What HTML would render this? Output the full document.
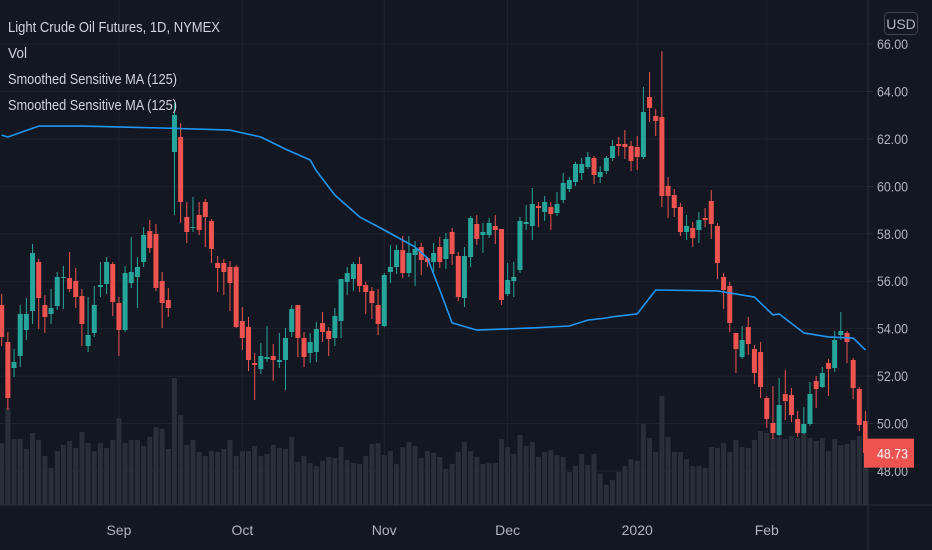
<!DOCTYPE html>
<html><head><meta charset="utf-8"><style>
html,body{margin:0;padding:0;background:#131722;}
svg{display:block;font-family:"Liberation Sans Narrow","Liberation Sans",sans-serif;}
</style></head><body>
<svg id="chart" width="932" height="550" viewBox="0 0 932 550" xmlns="http://www.w3.org/2000/svg">
<rect x="0" y="0" width="932" height="550" fill="#131722"/>
<g id="grid"></g>
<g id="vol"></g>
<g id="candles"></g>
<g id="ma"></g>
<g id="axes"></g>
<g>
<text x="8" y="32" fill="#d1d4dc" font-size="15" textLength="212" lengthAdjust="spacingAndGlyphs">Light Crude Oil Futures, 1D, NYMEX</text>
<text x="8" y="58" fill="#d1d4dc" font-size="15" textLength="19" lengthAdjust="spacingAndGlyphs">Vol</text>
<text x="8" y="84" fill="#d1d4dc" font-size="15" textLength="169" lengthAdjust="spacingAndGlyphs">Smoothed Sensitive MA (125)</text>
<text x="8" y="110" fill="#d1d4dc" font-size="15" textLength="169" lengthAdjust="spacingAndGlyphs">Smoothed Sensitive MA (125)</text>
</g>
</svg>
<script>
// Data (prices)
const opens = [];const highs=[];const lows=[];const closes=[];
// pixel-read candles converted below: [open,high,low,close] in price via helper from readings
const ohlcPx = [
[305,294,346,337],[342,332,410,398],[368,349,377,362],[356,305,367,314],[330,298,340,314],[311,244,324,253],[262,259,329,298],[305,295,333,317],[314,289,324,308],[306,272,310,277],
[278,266,309,277],[278,252,292,289],[281,268,308,297],[296,289,346,324],[346,297,352,335],[333,286,337,305],[287,262,297,285],[284,257,294,262],[264,262,316,302],[303,297,356,330],
[330,266,332,273],[283,237,288,272],[277,257,308,267],[262,227,267,235],[231,220,253,248],[234,224,291,288],[281,272,328,303],[300,288,317,308],[152,103,215,115],[137,123,223,202],
[217,202,243,232],[228,197,232,227],[215,202,235,230],[202,199,247,217],[221,219,263,249],[263,256,292,268],[263,259,295,272],[267,261,311,283],[267,265,328,327],[321,307,350,338],
[327,317,371,360],[363,353,400,365],[369,343,374,356],[359,326,362,357],[356,344,381,360],[362,333,368,360],[360,328,390,338],[332,305,337,309],[305,305,357,338],[338,332,367,357],
[353,333,363,342],[352,322,362,329],[323,312,342,332],[331,327,356,339],[338,308,346,316],[321,279,338,279],[282,267,295,273],[279,262,291,264],[264,257,292,286],[285,282,314,292],
[291,287,319,303],[305,289,335,324],[326,273,327,275],[272,245,283,267],[267,245,274,250],[250,236,278,273],[273,236,277,253],[255,241,286,249],[247,243,275,260],[258,257,267,262],
[262,243,272,253],[247,237,268,262],[259,233,269,239],[232,228,265,254],[256,252,301,297],[298,247,307,256],[257,216,267,218],[224,215,245,239],[235,223,253,232],[235,218,238,223],
[226,215,244,230],[229,229,305,300],[294,263,296,280],[281,262,297,277],[270,217,273,221],[224,205,230,222],[226,188,240,204],[206,202,227,208],[212,196,221,202],[207,202,230,214],
[213,192,216,204],[200,173,203,183],[189,177,192,180],[182,162,186,164],[173,158,180,164],[167,152,169,157],[158,156,184,175],[177,166,183,172],[171,156,174,158],[158,140,161,146],
[144,137,156,146],[144,130,159,147],[146,141,171,161],[147,136,170,157],[157,87,159,112],[97,72,122,108],[116,109,136,121],[117,51,207,196],[186,177,218,196],[195,189,217,208],
[207,203,236,232],[232,215,240,226],[228,222,247,238],[230,212,243,220],[218,208,227,220],[201,190,239,224],[226,223,279,263],[277,273,309,290],[286,282,332,323],[333,333,373,349],
[357,326,359,340],[327,317,355,344],[349,345,384,373],[352,342,398,387],[398,396,428,419],[423,386,439,433],[435,378,436,405],[394,370,420,401],[395,388,422,415],[419,411,437,433],
[433,407,434,424],[424,382,426,394],[381,376,408,389],[387,367,388,373],[363,359,396,369],[368,331,372,340],[335,312,340,331],[333,331,363,342],[360,358,399,388],[389,387,431,425],
[421,411,463,453]
];
const volumes = [62,97,66,66,56,72,65,49,37,54,60,64,57,73,62,54,62,57,65,87,62,65,65,59,68,78,76,56,127,90,60,65,53,49,54,53,56,65,49,54,54,59,49,51,60,57,56,68,43,49,42,39,44,48,47,58,45,42,41,49,61,62,50,54,41,58,63,59,47,54,52,48,36,41,53,63,54,48,41,42,42,66,58,51,70,59,63,48,53,55,50,48,33,39,51,40,51,31,20,25,33,39,46,44,81,67,53,109,68,53,53,46,39,39,37,58,57,62,53,65,58,57,65,74,72,67,68,66,69,67,72,67,64,67,54,66,60,61,65,69,69];
const maIndex = [0,1,6,13,26,37,42,46,47,50,51,54,58,62,67,69,71,73,77,86,92,95,98,99,103,106,116,122,125,126,130,134,138,140];
const maValues = [62.16,62.08,62.54,62.54,62.46,62.37,62.08,61.57,61.45,61.11,60.65,59.63,58.71,58.16,57.44,56.98,55.63,54.24,53.94,54.03,54.11,54.36,54.45,54.50,54.62,55.63,55.59,55.33,54.58,54.62,53.82,53.65,53.60,53.10];
const priceTicks = [66,64,62,60,58,56,54,52,50,48];
const dateLabels = ["Sep","Oct","Nov","Dec","2020","Feb"];
const dateIndex = [19,39,62,82,103,124];
const lastPrice = 48.73;

const pxToPrice = y => 66 - (y-44)/23.72;
ohlcPx.forEach(r=>{opens.push(pxToPrice(r[0]));highs.push(pxToPrice(r[1]));lows.push(pxToPrice(r[2]));closes.push(pxToPrice(r[3]));});

const NS="http://www.w3.org/2000/svg";
const X = i => 1.7 + 6.17*i;
const Y = p => 44 + (66-p)*23.72;
const VY = v => 505 - v;
function mk(tag,attrs,parent){const e=document.createElementNS(NS,tag);for(const k in attrs)e.setAttribute(k,attrs[k]);parent.appendChild(e);return e;}
const grid=document.getElementById('grid'),vol=document.getElementById('vol'),cg=document.getElementById('candles'),mg=document.getElementById('ma'),ax=document.getElementById('axes');

priceTicks.forEach(p=>{
  const l=mk('line',{x1:0,x2:868,y1:Y(p),y2:Y(p),stroke:'#1f2330','stroke-width':1},grid);
  
  
});
dateIndex.forEach(i=>{
  const l=mk('line',{x1:X(i),x2:X(i),y1:0,y2:505,stroke:'#1f2330','stroke-width':1},grid);
  
  
});

volumes.forEach((v,i)=>{
  const r=mk('rect',{x:X(i)-2.5,y:VY(v),width:5,height:v,fill:'#2a2e39'},vol);
  
  
});

for(let i=0;i<opens.length;i++){
  const up=closes[i]>=opens[i];const c=up?'#26a69a':'#ef5350';
  const g=mk('g',{},cg);
  
  
  mk('line',{x1:X(i),x2:X(i),y1:Y(highs[i]),y2:Y(lows[i]),stroke:c,'stroke-width':1},g);
  const t=Math.min(Y(opens[i]),Y(closes[i]));const h=Math.max(1,Math.abs(Y(opens[i])-Y(closes[i])));
  mk('rect',{x:X(i)-2.5,y:t,width:5,height:h,fill:c},g);
}

let d='';maIndex.forEach((k,j)=>{d+=(j?'L':'M')+X(k).toFixed(1)+','+Y(maValues[j]).toFixed(1);});
const ml=mk('path',{d:d,fill:'none',stroke:'#2196f3','stroke-width':1.6,'stroke-linejoin':'round'},mg);



const ab=mk('rect',{x:868,y:0,width:64,height:550,fill:'#131722'},ax);


const bb=mk('rect',{x:0,y:505,width:868,height:45,fill:'#131722'},ax);


const vl=mk('line',{x1:868,x2:868,y1:0,y2:550,stroke:'#2a2e39','stroke-width':1},ax);


const hl=mk('line',{x1:0,x2:932,y1:505,y2:505,stroke:'#2a2e39','stroke-width':1},ax);


priceTicks.forEach(p=>{
  const tk=mk('line',{x1:868,x2:873,y1:Y(p),y2:Y(p),stroke:'#2a2e39'},ax);
  
  
  const t=mk('text',{x:877,y:Y(p)+5,fill:'#b2b5be','font-size':14,textLength:31,lengthAdjust:'spacingAndGlyphs'},ax);
  t.textContent=p.toFixed(2);
  
  
});
dateLabels.forEach((s,j)=>{
  const t=mk('text',{x:X(dateIndex[j]),y:535,fill:'#b2b5be','font-size':14,'text-anchor':'middle'},ax);
  t.textContent=s;
  
  
});
const ub=mk('rect',{x:884.5,y:12.5,width:33,height:22,rx:4,fill:'#131722',stroke:'#434651'},ax);


const ut=mk('text',{x:901,y:29,fill:'#b2b5be','font-size':14,'text-anchor':'middle'},ax);
ut.textContent='USD';


const lb=mk('rect',{x:864,y:Y(lastPrice)-15,width:50,height:29,fill:'#ef5350'},ax);


const lt=mk('text',{x:877,y:Y(lastPrice)+5,fill:'#ffffff','font-size':14,textLength:31,lengthAdjust:'spacingAndGlyphs'},ax);
lt.textContent=lastPrice.toFixed(2);


</script>
</body></html>
